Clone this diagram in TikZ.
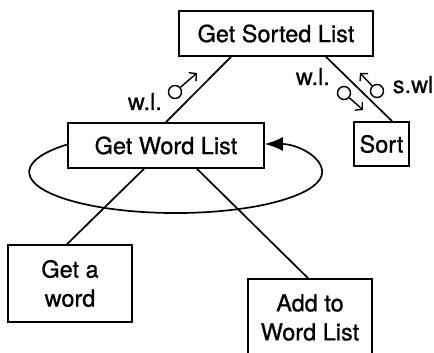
\documentclass[tikz,border=0pt]{standalone}
\usepackage{fontspec}
\setmainfont{TeX Gyre Heros}[FakeBold=0.8]
\usetikzlibrary{arrows.meta}
\begin{document}
\begin{tikzpicture}[x=1pt,y=1pt,line width=1.7pt,
  box/.style={draw,align=center,inner sep=0pt,font=\fontsize{23.5}{29}\selectfont},
  couple/.style={draw,circle,minimum size=13pt,inner sep=0pt,line width=1.4pt},
  flow/.style={line width=1.4pt,-{Straight Barb[length=5pt,width=11pt]}},
  lbl/.style={anchor=base west,inner sep=0pt,font=\fontsize{23.5}{29}\selectfont}]
  \useasboundingbox (0,0) rectangle (434,353);
  \clip (0,0) rectangle (434,353);
  \node[box,minimum width=194pt,minimum height=45pt] (sorted) at (276,319.5) {Get Sorted List};
  \node[box,minimum width=196pt,minimum height=45pt] (wlist) at (166,207.5) {Get Word List};
  \node[box,minimum width=55pt,minimum height=44pt] (sort) at (381.5,209) {Sort};
  \node[box,minimum width=124pt,minimum height=77pt] (word) at (70,69.5) {Get a\\word};
  \node[box,minimum width=124pt,minimum height=77pt] (add) at (310,35.5) {Add to\\Word List};
  \draw ([xshift=-45pt]sorted.south) -- (wlist.north);
  \draw ([xshift=50pt]sorted.south) -- ([xshift=10.5pt]sort.north);
  \draw ([xshift=-22pt]wlist.south) -- ([xshift=-3pt]word.north);
  \draw ([xshift=31pt]wlist.south) -- ([xshift=-2pt]add.north);
  \draw[-{Latex[length=18pt,width=14pt]}] ([yshift=1pt]wlist.west)
    arc[start angle=137.8,end angle=360,x radius=146.5,y radius=41]
    .. controls +(0,15.5) and +(32,0) .. ([yshift=1.5pt]wlist.east);
  \node[couple] (wl1) at (175,261) {};
  \node[couple] (wl2) at (344,260) {};
  \node[couple] (swl) at (377,262) {};
  \coordinate (wl1tip) at (197,280);
  \coordinate (wl2tip) at (363,243);
  \coordinate (swltip) at (360,280);
  \draw[flow] (wl1) -- (wl1tip);
  \draw[flow] (wl2) -- (wl2tip);
  \draw[flow] (swl) -- (swltip);
  \node[lbl] (wl1text) at (127,243) {w.l.};
  \node[lbl] (wl2text) at (295,268) {w.l.};
  \node[lbl] (swltext) at (392,260) {s.wl};
\end{tikzpicture}
\end{document}
